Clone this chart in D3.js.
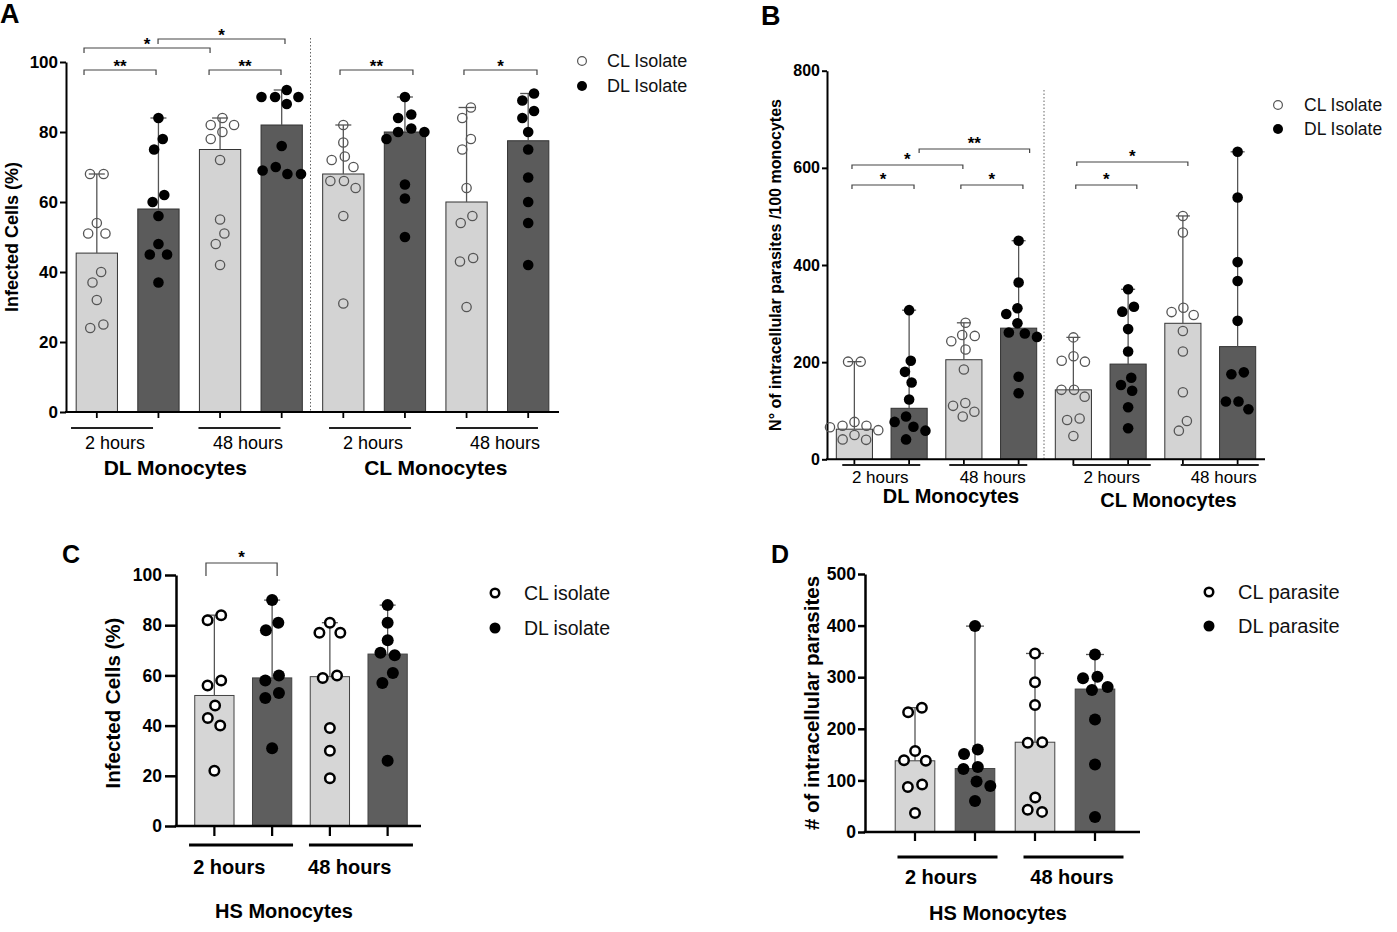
<!DOCTYPE html>
<html><head><meta charset="utf-8">
<script src="https://cdn.jsdelivr.net/npm/d3@7"></script>
<style>body{margin:0;background:#fff} svg{display:block}</style>
</head><body>
<svg id="c" width="1397" height="932"></svg>
<script>
// ================= DATA =================
const timepoints = ["2 hours", "48 hours"];
const monocytesAB = ["DL Monocytes", "CL Monocytes"];
const monocytesCD = ["HS Monocytes"];
const legendA = ["CL Isolate", "DL Isolate"];
const legendC = ["CL isolate", "DL isolate"];
const legendD = ["CL parasite", "DL parasite"];

// Panel A: Infected cells (%) — order: per monocyte group, per time, CL then DL isolate
const ticksA = [0, 20, 40, 60, 80, 100];
const barsA = [45.4, 58, 75, 82, 68, 80, 60, 77.5];
const pointsA = [
  [68, 68, 54, 51, 51, 40, 37, 32, 25, 24],
  [84, 78, 75, 62, 60, 56, 48, 45, 45, 37],
  [84, 82, 82, 80, 78, 72, 55, 51, 48, 42],
  [92, 90, 90, 90, 88, 76, 70, 69, 68, 68],
  [82, 77, 73, 72, 70, 66, 66, 64, 56, 31],
  [90, 85, 84, 81, 80, 80, 78, 65, 61, 50],
  [87, 84, 78, 75, 64, 56, 54, 44, 43, 30],
  [91, 89, 86, 84, 80, 75, 67, 60, 54, 42]
];
const sigA = [[0, 1, "**"], [2, 3, "**"], [0, 2, "*"], [1, 3, "*"], [4, 5, "**"], [6, 7, "*"]];

// Panel B: N° of intracellular parasites /100 monocytes
const ticksB = [0, 200, 400, 600, 800];
const barsB = [62, 105, 205, 270, 143, 196, 280, 232];
const pointsB = [
  [201, 201, 77, 69, 69, 66, 60, 50, 41, 40],
  [307, 203, 180, 158, 123, 88, 77, 67, 59, 41],
  [281, 256, 254, 243, 226, 185, 116, 110, 98, 88],
  [450, 364, 311, 299, 280, 261, 259, 252, 170, 136],
  [251, 212, 203, 201, 143, 143, 129, 84, 81, 48],
  [350, 314, 304, 268, 222, 168, 153, 141, 107, 64],
  [501, 467, 312, 303, 297, 264, 222, 138, 79, 59],
  [633, 539, 406, 367, 285, 179, 175, 119, 119, 103]
];
const sigB = [[0, 1, "*"], [2, 3, "*"], [0, 2, "*"], [1, 3, "**"], [4, 5, "*"], [4, 6, "*"]];

// Panel C: Infected cells (%) HS monocytes
const ticksC = [0, 20, 40, 60, 80, 100];
const barsC = [52, 59, 59.5, 68.5];
const pointsC = [
  [84, 82, 58, 56, 48, 43, 40, 22],
  [90, 81, 78, 60, 58, 53, 51, 31],
  [81, 77, 77, 60, 59, 39, 30, 19],
  [88, 81, 74, 69, 68, 61, 57, 26]
];
const sigC = [[0, 1, "*"]];

// Panel D: # of intracellular parasites HS monocytes
const ticksD = [0, 100, 200, 300, 400, 500];
const barsD = [138, 123, 174, 277];
const pointsD = [
  [241, 232, 157, 139, 138, 92, 87, 37],
  [399, 160, 151, 126, 122, 98, 89, 60],
  [346, 290, 246, 174, 173, 67, 43, 39],
  [344, 301, 298, 281, 275, 218, 131, 29]
];

// ================= DRAWING =================
const svg = d3.select("#c");
const FONT = "'Liberation Sans', Arial, Helvetica, sans-serif";

function swarm(vals, y, D) {
  const pts = vals.map(v => ({ v, y: y(v), x: 0 })).sort((a, b) => a.y - b.y);
  const placed = [];
  pts.forEach(p => {
    const iv = [];
    placed.forEach(q => {
      const dy = Math.abs(q.y - p.y);
      if (dy < D) { const dx = Math.sqrt(D * D - dy * dy); iv.push([q.x - dx, q.x + dx]); }
    });
    const cands = [0];
    iv.forEach(a => cands.push(a[0], a[1]));
    cands.sort((a, b) => Math.abs(a) - Math.abs(b) || a - b);
    p.x = cands.find(c => iv.every(a => c <= a[0] + 1e-6 || c >= a[1] - 1e-6));
    placed.push(p);
  });
  const comp = placed.map((_, i) => i);
  const find = i => comp[i] === i ? i : (comp[i] = find(comp[i]));
  for (let i = 0; i < placed.length; i++)
    for (let j = i + 1; j < placed.length; j++)
      if (Math.abs(placed[i].y - placed[j].y) < D) comp[find(i)] = find(j);
  const groups = d3.group(placed.map((p, i) => ({ p, c: find(i) })), d => d.c);
  groups.forEach(arr => { const m = d3.mean(arr, d => d.p.x); arr.forEach(d => d.p.x -= m); });
  return placed;
}

function drawPanel(P) {
  const g = svg.append("g");
  const n = P.bars.length;
  const x = d3.scaleBand().domain(d3.range(n)).range(P.xRange).paddingInner(P.pad).paddingOuter(P.pad / 2);
  const bw = x.bandwidth();
  const cx = i => x(i) + bw / 2;
  const y = d3.scaleLinear().domain([0, d3.max(P.ticks)]).range(P.yRange);
  const y0 = y(0);

  if (P.divider) {
    const dx = (cx(3) + cx(4)) / 2 + P.divider.shift;
    g.append("line").attr("x1", dx).attr("x2", dx).attr("y1", P.divider.y1).attr("y2", y0)
      .attr("stroke", "#666").attr("stroke-width", 1).attr("stroke-dasharray", "1.5,2");
  }

  g.selectAll("rect.bar").data(P.bars).join("rect").attr("class", "bar")
    .attr("x", (d, i) => x(i)).attr("width", bw)
    .attr("y", d => y(d)).attr("height", d => y0 - y(d))
    .attr("fill", (d, i) => i % 2 ? P.dark : P.light)
    .attr("stroke", P.barStroke).attr("stroke-width", 1);

  P.points.forEach((pts, i) => {
    const m = d3.max(pts);
    g.append("line").attr("x1", cx(i)).attr("x2", cx(i)).attr("y1", y(P.bars[i])).attr("y2", y(m))
      .attr("stroke", P.errColor).attr("stroke-width", P.errW);
    g.append("line").attr("x1", cx(i) - P.cap / 2).attr("x2", cx(i) + P.cap / 2).attr("y1", y(m)).attr("y2", y(m))
      .attr("stroke", P.errColor).attr("stroke-width", P.errW);
  });

  const ya = g.append("g").attr("transform", `translate(${P.axisX},0)`)
    .call(d3.axisLeft(y).tickValues(P.ticks).tickSize(P.tickSize).tickPadding(P.tickPad).tickSizeOuter(0));
  ya.select(".domain").attr("stroke", "#000").attr("stroke-width", P.axisW);
  ya.selectAll(".tick line").attr("stroke", "#000").attr("stroke-width", P.axisW);
  ya.selectAll(".tick text").attr("font-family", FONT).attr("font-size", P.tickFont)
    .attr("font-weight", "bold").attr("fill", "#000");

  g.append("line").attr("x1", P.axisX - P.axisW / 2).attr("x2", P.axisEnd).attr("y1", y0).attr("y2", y0)
    .attr("stroke", "#000").attr("stroke-width", P.axisW);
  g.selectAll("line.xt").data(P.bars).join("line").attr("class", "xt")
    .attr("x1", (d, i) => cx(i)).attr("x2", (d, i) => cx(i))
    .attr("y1", y0).attr("y2", y0 + P.xTick).attr("stroke", "#000").attr("stroke-width", P.axisW * 0.9);

  P.points.forEach((pts, i) => {
    const s = swarm(pts, y, 2 * P.r + P.gap);
    const open = i % 2 === 0;
    g.selectAll(null).data(s).join("circle")
      .attr("cx", d => cx(i) + d.x).attr("cy", d => d.y)
      .attr("r", open ? P.r - P.openW / 2 : P.r)
      .attr("fill", open ? P.openFill : "#000")
      .attr("stroke", open ? P.openStroke : "none")
      .attr("stroke-width", P.openW);
  });

  for (let t = 0; t < n / 2; t++) {
    const c = (cx(2 * t) + cx(2 * t + 1)) / 2;
    const lc = c + P.lineShift[t];
    g.append("line").attr("x1", lc - P.lineHW).attr("x2", lc + P.lineHW).attr("y1", P.lineY).attr("y2", P.lineY)
      .attr("stroke", P.lineColor).attr("stroke-width", P.lineW);
    g.append("text").attr("x", c + P.labelShift[t]).attr("y", P.labelY).attr("text-anchor", "middle")
      .attr("font-family", FONT).attr("font-size", P.labelFont).attr("font-weight", P.labelWeight)
      .text(P.times[t % 2]);
  }

  P.groups.forEach((name, k) => {
    const c = (cx(4 * k) + cx(4 * k + 3)) / 2 + P.titleShift[k];
    g.append("text").attr("x", c).attr("y", P.titleY[k]).attr("text-anchor", "middle")
      .attr("font-family", FONT).attr("font-size", P.titleFont).attr("font-weight", "bold").text(name);
  });

  (P.sig || []).forEach((s, k) => {
    const L = P.sigLayout[k];
    const x1 = cx(s[0]) + L[1], x2 = cx(s[1]) + L[2], by = L[0];
    g.append("path").attr("d", `M${x1},${by + P.sigTick}V${by}H${x2}V${by + P.sigTick}`)
      .attr("fill", "none").attr("stroke", "#444").attr("stroke-width", 1.2);
    g.append("text").attr("x", (x1 + x2) / 2).attr("y", by + P.starDy).attr("text-anchor", "middle")
      .attr("font-family", FONT).attr("font-size", 17).attr("font-weight", "bold").text(s[2]);
  });

  P.legend.labels.forEach((lab, k) => {
    const ly = P.legend.ys[k];
    const open = k === 0;
    g.append("circle").attr("cx", P.legend.x).attr("cy", ly)
      .attr("r", open ? P.legend.r - P.legend.openW / 2 : P.legend.r)
      .attr("fill", open ? "none" : "#000").attr("stroke", open ? P.legend.openStroke : "none")
      .attr("stroke-width", P.legend.openW);
    g.append("text").attr("x", P.legend.tx).attr("y", ly + P.legend.font * 0.36)
      .attr("font-family", FONT).attr("font-size", P.legend.font).attr("fill", "#111").text(lab);
  });

  g.append("text").attr("transform", `translate(${P.ylabel.x},${P.ylabel.y}) rotate(-90)`)
    .attr("text-anchor", "middle").attr("dy", "0.36em")
    .attr("font-family", FONT).attr("font-size", P.ylabel.font).attr("font-weight", "bold").text(P.ylabel.text);

  svg.append("text").attr("x", P.letter.x).attr("y", P.letter.y)
    .attr("font-family", FONT).attr("font-size", P.letter.size).attr("font-weight", "bold").text(P.letter.text);
}

const styleAB = { light: "#d3d3d3", dark: "#5b5b5b", barStroke: "#333", r: 5.3, openStroke: "#555", openW: 1.3,
  openFill: "none", errColor: "#555", errW: 1.3 };
const styleCD = { light: "#d6d6d6", dark: "#5e5e5e", barStroke: "#444", r: 6, openStroke: "#000", openW: 2.5,
  openFill: "#fff", errColor: "#555", errW: 1.3 };

drawPanel(Object.assign({}, styleAB, {
  bars: barsA, points: pointsA, ticks: ticksA, times: timepoints, groups: monocytesAB,
  xRange: [66, 559], pad: 0.33, yRange: [412, 62], axisX: 66, axisEnd: 559, axisW: 2,
  tickSize: 6, tickPad: 2, tickFont: 17, xTick: 6, gap: 3, cap: 16,
  lineY: 428, lineW: 2, lineHW: 41, lineColor: "#222", lineShift: [-15.6, -11.4, -4.1, -0.4],
  labelY: 449, labelShift: [-12.6, -2.9, -1.1, 7.6], labelFont: 18, labelWeight: "normal",
  titleY: [475, 475], titleShift: [-14, 0], titleFont: 21,
  divider: { shift: -2, y1: 38 },
  sig: sigA, sigLayout: [[70, -12.8, -2.4], [70, -11, -0.7], [48, -12.8, -10], [39, -0.4, 3.3], [70, -3.3, 8], [70, -2.6, 8.8]],
  sigTick: 5, starDy: 2,
  legend: { labels: legendA, x: 582, ys: [61, 86], tx: 607, font: 18, r: 5, openStroke: "#555", openW: 1.2 },
  ylabel: { text: "Infected Cells (%)", x: 12, y: 237, font: 18 },
  letter: { text: "A", x: 0, y: 23, size: 27 }
}));

drawPanel(Object.assign({}, styleAB, {
  bars: barsB, points: pointsB, ticks: ticksB, times: timepoints, groups: monocytesAB,
  xRange: [827, 1265], pad: 0.34, yRange: [459.3, 70.7], axisX: 827, axisEnd: 1265, axisW: 2,
  tickSize: 5, tickPad: 2, tickFont: 16, xTick: 6, gap: 2, cap: 14,
  lineY: 465, lineW: 2, lineHW: 39, lineColor: "#222", lineShift: [-0.5, -3, 11, 9.5],
  labelY: 483, labelShift: [-1.5, 1.5, 11, 13.5], labelFont: 17, labelWeight: "normal",
  titleY: [503, 507], titleShift: [14.5, 13], titleFont: 20,
  divider: { shift: -2, y1: 90 },
  sig: sigB, sigLayout: [[185, -2.4, 4.9], [185, -3, 4.3], [165, -2.4, -1], [149, 10, 11], [185, 2.4, 8.7], [162, 3.4, 5]],
  sigTick: 4, starDy: -0.5,
  legend: { labels: legendA, x: 1278, ys: [105, 129], tx: 1304, font: 17.5, r: 5, openStroke: "#555", openW: 1.2 },
  ylabel: { text: "N° of intracellular parasites /100 monocytes", x: 775, y: 265, font: 16 },
  letter: { text: "B", x: 761, y: 25, size: 27 }
}));

drawPanel(Object.assign({}, styleCD, {
  bars: barsC, points: pointsC, ticks: ticksC, times: timepoints, groups: monocytesCD,
  xRange: [185.5, 416.5], pad: 0.32, yRange: [826, 575], axisX: 176, axisEnd: 421, axisW: 2.5,
  tickSize: 11, tickPad: 3, tickFont: 17.5, xTick: 10, gap: 2.5, cap: 16,
  lineY: 845, lineW: 3, lineHW: 52, lineColor: "#000", lineShift: [-2.2, 2.2],
  labelY: 874, labelShift: [-14, -9], labelFont: 20, labelWeight: "bold",
  titleY: [918], titleShift: [-17], titleFont: 20,
  sig: sigC, sigLayout: [[563, -8.4, 5]], sigTick: 13, starDy: -0.5,
  legend: { labels: legendC, x: 495, ys: [593, 628], tx: 524, font: 19.5, r: 5.5, openStroke: "#000", openW: 2.5 },
  ylabel: { text: "Infected Cells (%)", x: 113, y: 703, font: 20.5 },
  letter: { text: "C", x: 62, y: 563, size: 25 }
}));

drawPanel(Object.assign({}, styleCD, {
  bars: barsD, points: pointsD, ticks: ticksD, times: timepoints, groups: monocytesCD,
  xRange: [885, 1125], pad: 0.34, yRange: [832, 574], axisX: 865, axisEnd: 1140, axisW: 2.5,
  tickSize: 7, tickPad: 2, tickFont: 17.5, xTick: 9, gap: 2.5, cap: 18,
  lineY: 857, lineW: 3, lineHW: 50, lineColor: "#000", lineShift: [2.5, 8.5],
  labelY: 884, labelShift: [-4, 7], labelFont: 20, labelWeight: "bold",
  titleY: [920], titleShift: [-7], titleFont: 20,
  sig: [], sigLayout: [], sigTick: 0, starDy: 0,
  legend: { labels: legendD, x: 1209, ys: [592, 626], tx: 1238, font: 20, r: 5.5, openStroke: "#000", openW: 2.5 },
  ylabel: { text: "# of intracellular parasites", x: 812, y: 703, font: 20.5 },
  letter: { text: "D", x: 771, y: 563, size: 25 }
}));
</script>
</body></html>
